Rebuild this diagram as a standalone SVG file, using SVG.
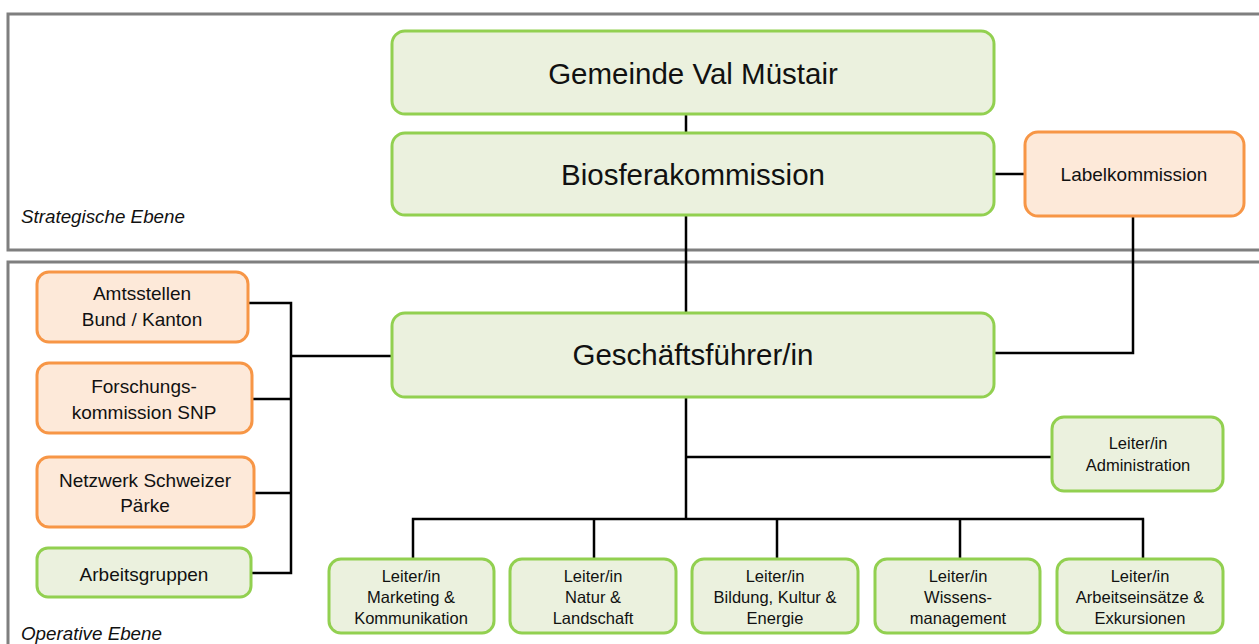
<svg xmlns="http://www.w3.org/2000/svg" width="1259" height="644" viewBox="0 0 1259 644">
<style>
text{font-family:"Liberation Sans",Arial,sans-serif;fill:#111;text-anchor:middle}
.frame{fill:none;stroke:#7f7f7f;stroke-width:3}
.g{fill:#EBF1DE;stroke:#92D050;stroke-width:3}
.o{fill:#FDE9D9;stroke:#F79646;stroke-width:3}
.big{font-size:29.5px}
.mid{font-size:19px}
.sm{font-size:16.5px}
.lvl{font-size:18.8px;font-style:italic;text-anchor:start}
.c{fill:none;stroke:#000;stroke-width:2.5}
</style>
<rect width="1259" height="644" fill="#fff"/>
<g id="frames">
<rect class="frame" x="8" y="14" width="1260" height="236"/>
<rect class="frame" x="8" y="262" width="1260" height="400"/>
<text class="lvl" x="21" y="223">Strategische Ebene</text>
<text class="lvl" x="21" y="640">Operative Ebene</text>
</g>
<g id="connectors">
<path class="c" d="M686 114V133M686 215V313M994 174H1025M1133 216V353H994"/>
<path class="c" d="M248 303H291M252 399H291M254 493H291M251 573H291M291 301.8V574.2M291 356H392"/>
<path class="c" d="M686 397V519M686 457H1052M411.8 519H1144.2M413 519V559M594 519V559M777 519V559M960 519V559M1143 519V559"/>
</g>
<g id="gemeinde"><rect class="g" x="392" y="31" width="602" height="83" rx="13"/><text class="big" x="693" y="84">Gemeinde Val Müstair</text></g>
<g id="biosfera"><rect class="g" x="392" y="133" width="602" height="82" rx="13"/><text class="big" x="693" y="185">Biosferakommission</text></g>
<g id="label"><rect class="o" x="1025" y="132" width="219" height="84" rx="13"/><text class="mid" x="1134" y="181">Labelkommission</text></g>
<g id="gf"><rect class="g" x="392" y="313" width="602" height="84" rx="13"/><text class="big" x="693" y="365">Geschäftsführer/in</text></g>
<g id="amt"><rect class="o" x="37" y="272" width="211" height="70" rx="12"/><text class="mid" x="142" y="300">Amtsstellen</text><text class="mid" x="142" y="326">Bund / Kanton</text></g>
<g id="forsch"><rect class="o" x="37" y="363" width="215" height="70" rx="12"/><text class="mid" x="144" y="393">Forschungs-</text><text class="mid" x="144" y="419">kommission SNP</text></g>
<g id="netz"><rect class="o" x="37" y="457" width="217" height="70" rx="12"/><text class="mid" x="145" y="487">Netzwerk Schweizer</text><text class="mid" x="145" y="512">Pärke</text></g>
<g id="arbeit"><rect class="g" x="37" y="548" width="214" height="49" rx="11"/><text class="mid" x="144" y="581">Arbeitsgruppen</text></g>
<g id="admin"><rect class="g" x="1052" y="417" width="171" height="74" rx="12"/><text class="sm" x="1138" y="449">Leiter/in</text><text class="sm" x="1138" y="471">Administration</text></g>
<g id="marketing"><rect class="g" x="329" y="559" width="165" height="74" rx="12"/><text class="sm" x="411" y="582">Leiter/in</text><text class="sm" x="411" y="603">Marketing &amp;</text><text class="sm" x="411" y="624">Kommunikation</text></g>
<g id="natur"><rect class="g" x="510" y="559" width="166" height="74" rx="12"/><text class="sm" x="593" y="582">Leiter/in</text><text class="sm" x="593" y="603">Natur &amp;</text><text class="sm" x="593" y="624">Landschaft</text></g>
<g id="bildung"><rect class="g" x="692" y="559" width="166" height="74" rx="12"/><text class="sm" x="775" y="582">Leiter/in</text><text class="sm" x="775" y="603">Bildung, Kultur &amp;</text><text class="sm" x="775" y="624">Energie</text></g>
<g id="wissen"><rect class="g" x="875" y="559" width="165" height="74" rx="12"/><text class="sm" x="958" y="582">Leiter/in</text><text class="sm" x="958" y="603">Wissens-</text><text class="sm" x="958" y="624">management</text></g>
<g id="arbeitseinsatz"><rect class="g" x="1057" y="559" width="166" height="74" rx="12"/><text class="sm" x="1140" y="582">Leiter/in</text><text class="sm" x="1140" y="603">Arbeitseinsätze &amp;</text><text class="sm" x="1140" y="624">Exkursionen</text></g>
</svg>
